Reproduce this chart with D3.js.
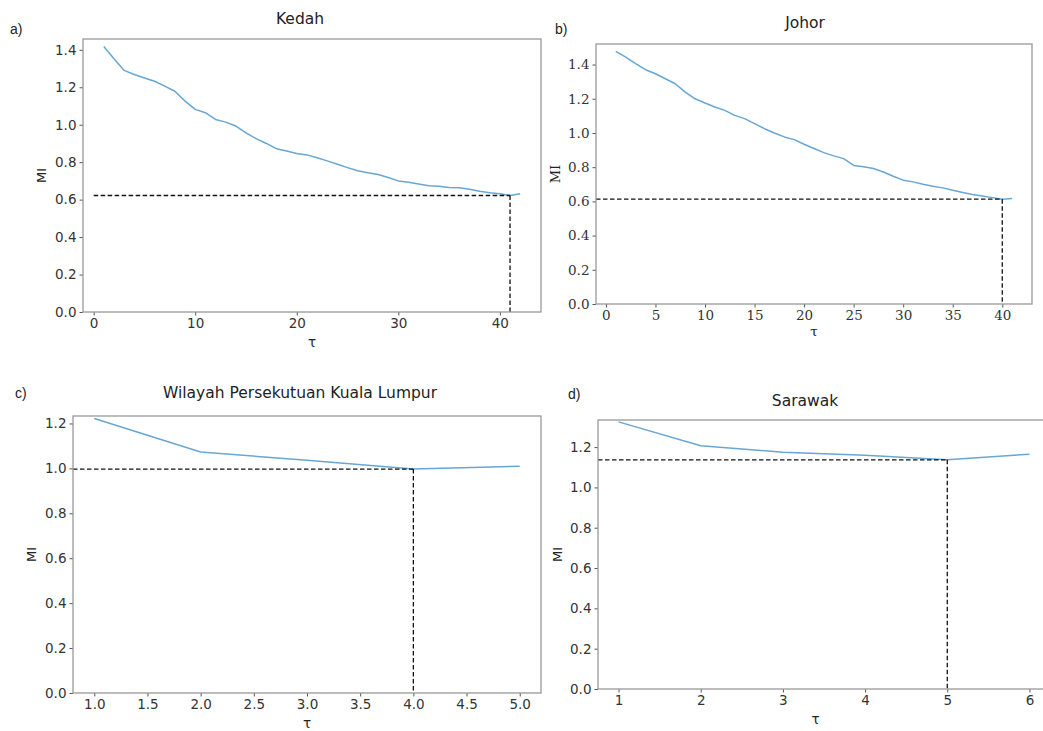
<!DOCTYPE html>
<html>
<head>
<meta charset="utf-8">
<script src="https://cdn.jsdelivr.net/npm/d3@7"></script>
<style>
  body { margin: 0; background: #fff; }
  svg { display: block; }
</style>
</head>
<body>
<svg id="drawing_region"></svg>
<script>
// ---- data (MI vs time delay tau) ----
const kedahTau = [1,2,3,4,5,6,7,8,9,10,11,12,13,14,15,16,17,18,19,20,21,22,23,24,25,26,27,28,29,30,31,32,33,34,35,36,37,38,39,40,41,42];
const kedahMI = [1.418,1.352,1.29,1.268,1.25,1.232,1.206,1.179,1.126,1.082,1.064,1.028,1.014,0.993,0.957,0.926,0.9,0.872,0.86,0.846,0.839,0.824,0.807,0.789,0.771,0.754,0.743,0.734,0.718,0.70,0.693,0.683,0.674,0.672,0.665,0.663,0.656,0.645,0.637,0.631,0.622,0.631];

const johorTau = [1,2,3,4,5,6,7,8,9,10,11,12,13,14,15,16,17,18,19,20,21,22,23,24,25,26,27,28,29,30,31,32,33,34,35,36,37,38,39,40,41];
const johorMI = [1.477,1.444,1.405,1.37,1.346,1.317,1.288,1.239,1.2,1.175,1.152,1.132,1.103,1.084,1.055,1.025,1.0,0.977,0.961,0.934,0.909,0.885,0.866,0.85,0.81,0.803,0.792,0.772,0.747,0.724,0.714,0.70,0.689,0.679,0.665,0.652,0.64,0.632,0.622,0.613,0.617];

const klTau = [1,2,3,4,5];
const klMI = [1.222,1.073,1.036,0.997,1.01];

const sarawakTau = [1,2,3,4,5,6];
const sarawakMI = [1.325,1.207,1.175,1.159,1.137,1.165];

const panelTitles = ["Kedah", "Johor", "Wilayah Persekutuan Kuala Lumpur", "Sarawak"];
const panelLetters = ["a)", "b)", "c)", "d)"];
const optimalTau = [41, 40, 4, 5];

const xTicksA = [0,10,20,30,40];
const xTicksB = [0,5,10,15,20,25,30,35,40];
const xTicksC = [1.0,1.5,2.0,2.5,3.0,3.5,4.0,4.5,5.0];
const xTicksD = [1,2,3,4,5,6];
const yTicksA = [0.0,0.2,0.4,0.6,0.8,1.0,1.2,1.4];
const yTicksC = [0.0,0.2,0.4,0.6,0.8,1.0,1.2];

const sans = "'DejaVu Sans', sans-serif";
const serif = "'DejaVu Serif', serif";

const svg = d3.select('#drawing_region')
    .attr('width', 1043)
    .attr('height', 731);

const panels = [
    { tau: kedahTau, mi: kedahMI, xTicks: xTicksA, yTicks: yTicksA, xFmt: d3.format('d'),
      left: 83, top: 39, right: 541, bottom: 312, font: sans, hFromZero: true,
      letter: [10, 34], title: [300, 24], xlab: 347, ylab: 46 },
    { tau: johorTau, mi: johorMI, xTicks: xTicksB, yTicks: yTicksA, xFmt: d3.format('d'),
      left: 596, top: 44, right: 1032, bottom: 304, font: serif, hFromZero: false,
      letter: [555, 34], title: [805, 28], xlab: 336, ylab: 560 },
    { tau: klTau, mi: klMI, xTicks: xTicksC, yTicks: yTicksC, xFmt: d3.format('.1f'),
      left: 73, top: 416, right: 541, bottom: 693, font: sans, hFromZero: false,
      letter: [15, 398], title: [300, 398], xlab: 728, ylab: 36 },
    { tau: sarawakTau, mi: sarawakMI, xTicks: xTicksD, yTicks: yTicksC, xFmt: d3.format('d'),
      left: 598, top: 420, right: 1050, bottom: 689, font: sans, hFromZero: false,
      letter: [568, 399], title: [805, 406], xlab: 724, ylab: 562 }
];

panels.forEach((p, i) => {
    const xExt = d3.extent(p.tau);
    const yExt = d3.extent(p.mi);
    const xPad = (xExt[1] - xExt[0]) * 0.05;
    const yPad = (yExt[1] - yExt[0]) * 0.05;

    const x = d3.scaleLinear()
        .domain([xExt[0] - xPad, xExt[1] + xPad])
        .range([p.left, p.right]);
    const y = d3.scaleLinear()
        .domain([0, yExt[1] + yPad])
        .range([p.bottom, p.top]);

    const g = svg.append('g');

    // axes
    const xAxis = g.append('g')
        .attr('transform', `translate(0,${p.bottom})`)
        .call(d3.axisBottom(x).tickValues(p.xTicks).tickFormat(p.xFmt).tickSize(3.5).tickPadding(3));
    const yAxis = g.append('g')
        .attr('transform', `translate(${p.left},0)`)
        .call(d3.axisLeft(y).tickValues(p.yTicks).tickFormat(d3.format('.1f')).tickSize(3.5).tickPadding(3));

    [xAxis, yAxis].forEach(a => {
        a.select('.domain').remove();
        a.selectAll('line').attr('stroke', '#555');
        a.selectAll('text')
            .attr('fill', '#333')
            .style('font-family', p.font)
            .style('font-size', '13.5px');
    });

    // line
    const pts = p.tau.map((t, k) => [t, p.mi[k]]);
    g.append('path')
        .datum(pts)
        .attr('d', d3.line().x(d => x(d[0])).y(d => y(d[1])))
        .attr('fill', 'none')
        .attr('stroke', '#68a6d4')
        .attr('stroke-width', 1.5)
        .attr('stroke-linejoin', 'round');

    // dashed guides to the chosen tau
    const k = p.tau.indexOf(optimalTau[i]);
    const yMin = p.mi[k];
    g.append('line')
        .attr('x1', p.hFromZero ? x(0) : p.left)
        .attr('x2', x(optimalTau[i]))
        .attr('y1', y(yMin))
        .attr('y2', y(yMin))
        .attr('stroke', '#111')
        .attr('stroke-width', 1.3)
        .attr('stroke-dasharray', '4.5,2.5');
    g.append('line')
        .attr('x1', x(optimalTau[i]))
        .attr('x2', x(optimalTau[i]))
        .attr('y1', y(yMin))
        .attr('y2', y(0))
        .attr('stroke', '#111')
        .attr('stroke-width', 1.3)
        .attr('stroke-dasharray', '4.5,2.5');

    // frame
    g.append('rect')
        .attr('x', p.left)
        .attr('y', p.top)
        .attr('width', p.right - p.left)
        .attr('height', p.bottom - p.top)
        .attr('fill', 'none')
        .attr('stroke', '#999')
        .attr('stroke-width', 1.3);

    // texts
    g.append('text')
        .attr('x', p.title[0])
        .attr('y', p.title[1])
        .attr('text-anchor', 'middle')
        .style('font-family', sans)
        .style('font-size', '15.5px')
        .attr('fill', '#222')
        .text(panelTitles[i]);

    g.append('text')
        .attr('x', p.letter[0])
        .attr('y', p.letter[1])
        .style('font-family', "'Liberation Sans', Arial, sans-serif")
        .style('font-size', '14px')
        .attr('fill', '#222')
        .text(panelLetters[i]);

    g.append('text')
        .attr('x', (p.left + Math.min(p.right, 1043)) / 2 + (i === 3 ? -5 : 0))
        .attr('y', p.xlab)
        .attr('text-anchor', 'middle')
        .style('font-family', p.font)
        .style('font-size', '13.5px')
        .attr('fill', '#222')
        .text('τ');

    g.append('text')
        .attr('transform', `translate(${p.ylab},${(p.top + p.bottom) / 2}) rotate(-90)`)
        .attr('text-anchor', 'middle')
        .style('font-family', p.font)
        .style('font-size', '13px')
        .attr('fill', '#222')
        .text('MI');
});
</script>
</body>
</html>
